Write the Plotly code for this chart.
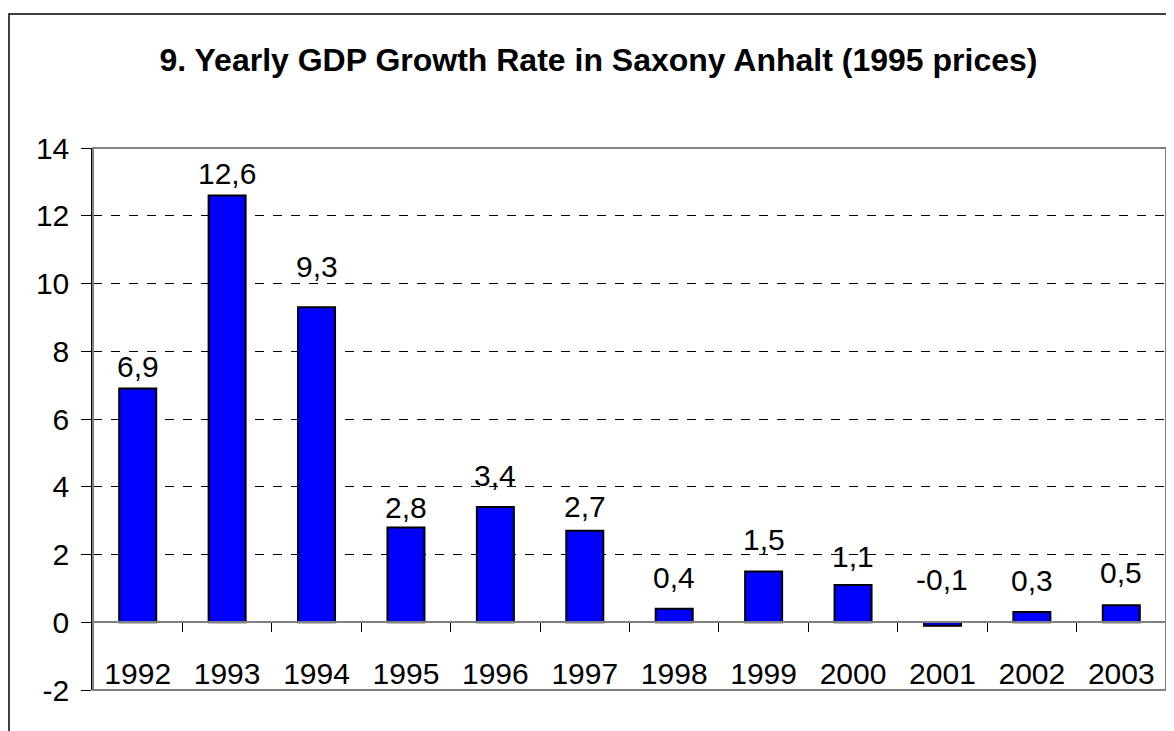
import plotly.graph_objects as go

years = ["1992", "1993", "1994", "1995", "1996", "1997", "1998", "1999", "2000", "2001", "2002", "2003"]
growth = [6.9, 12.6, 9.3, 2.8, 3.4, 2.7, 0.4, 1.5, 1.1, -0.1, 0.3, 0.5]
y_ticks = [-2, 0, 2, 4, 6, 8, 10, 12, 14]
y_tick_text = ["-2", "0", "2", "4", "6", "8", "10", "12", "14"]
title_text = "9. Yearly GDP Growth Rate in Saxony Anhalt (1995 prices)"

# style: vertical pixel offset of each value label above its bar
label_shift_px = [4, 3, 22, 1, 13, 6, 13, 13, 10, 24, 13, 14]

FONT = "Liberation Sans, Arial, sans-serif"

# figure geometry (page body adds an 8px offset)
W, H = 1166, 723
L, R, T, B = 85, 8, 140, 41
PW, PH = W - L - R, H - T - B

fig = go.Figure()
fig.add_trace(go.Bar(
    x=years, y=growth,
    marker=dict(color="#0000FF", line=dict(color="black", width=2)),
    hoverinfo="x+y",
))

for i, v in enumerate(growth):
    fig.add_annotation(
        x=i, y=max(v, 0), text=f"{v:.1f}".replace(".", ","),
        showarrow=False, yanchor="bottom", yshift=label_shift_px[i],
        font=dict(family=FONT, size=30, color="black"),
    )

fig.update_layout(
    width=W, height=H,
    margin=dict(l=L, r=R, t=T, b=B, autoexpand=False),
    paper_bgcolor="white", plot_bgcolor="white",
    bargap=0.586, showlegend=False,
    title=dict(text=f"<b>{title_text}</b>", x=590.5 / W, xanchor="center",
               y=1 - 52 / H, yanchor="middle", xref="container", yref="container",
               font=dict(family=FONT, size=32, color="black")),
    font=dict(family=FONT, color="black"),
    xaxis=dict(
        type="category", range=[-0.5, len(years) - 0.5],
        anchor="free", position=0.125, automargin=False,
        showline=True, linecolor="#808080", linewidth=2,
        ticks="outside", ticklen=9, tickcolor="black", tickwidth=1,
        tickson="boundaries", showgrid=False, zeroline=False,
        tickangle=0, ticklabelstandoff=25,
        tickfont=dict(family=FONT, size=30, color="black"),
    ),
    yaxis=dict(
        range=[-2, 14], tickvals=y_ticks, ticktext=y_tick_text, automargin=False,
        showline=True, linecolor="black", linewidth=1.5,
        ticks="outside", ticklen=10, tickcolor="black",
        showgrid=True, gridcolor="black", griddash="dash", gridwidth=1,
        zeroline=False, ticklabelstandoff=6,
        tickfont=dict(family=FONT, size=30, color="black"),
    ),
    shapes=[
        dict(type="rect", xref="paper", yref="paper", x0=0, x1=1, y0=0, y1=1,
             line=dict(color="#808080", width=2), layer="above"),
        dict(type="rect", xref="paper", yref="paper",
             x0=(1 - L) / PW, x1=1.05, y0=-0.2, y1=(PH + T - 6) / PH,
             line=dict(color="black", width=1.5), layer="below"),
    ],
)

fig.write_html("out.html")
